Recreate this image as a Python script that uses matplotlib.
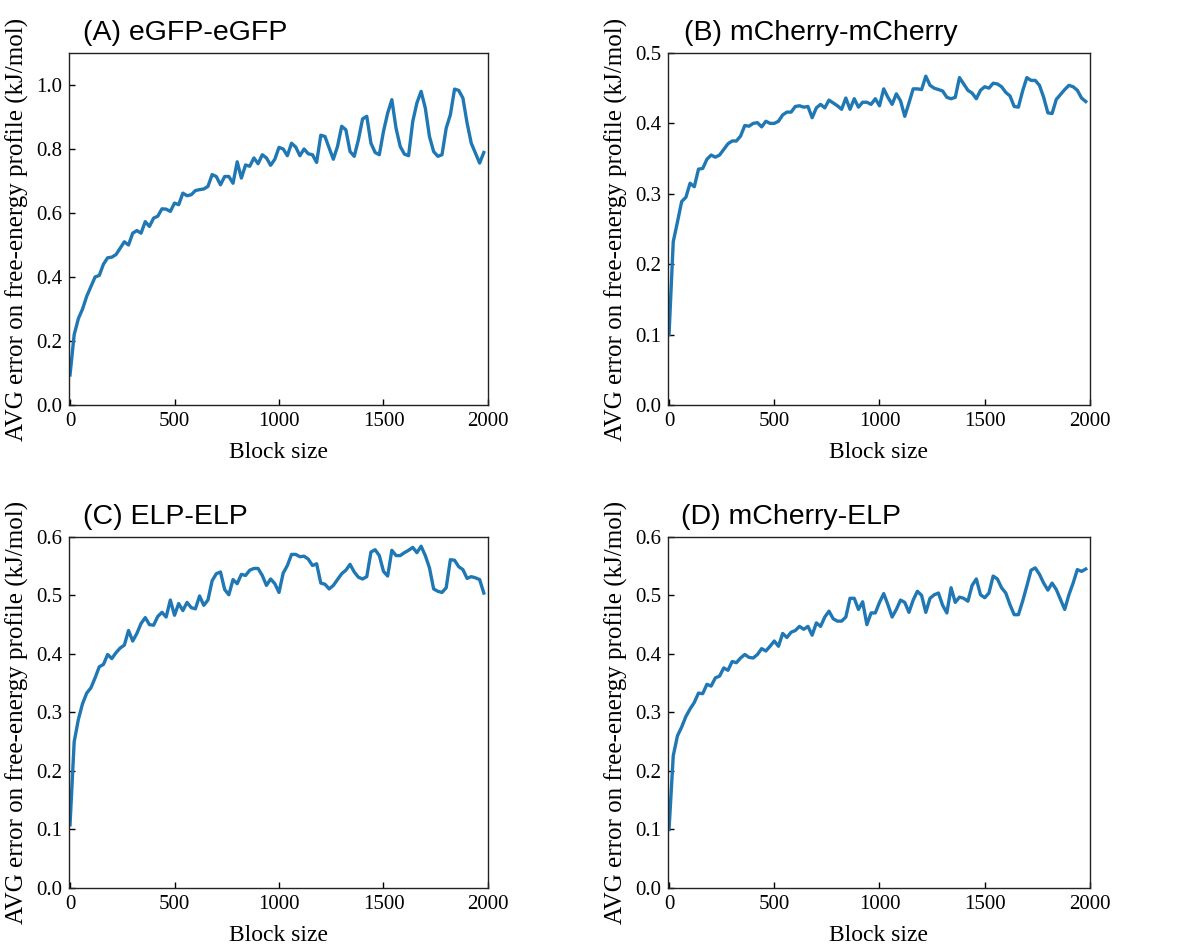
import numpy as np
import matplotlib
matplotlib.use("Agg")
import matplotlib.pyplot as plt

plt.rcParams["font.family"] = ["Liberation Serif", "DejaVu Serif"]

# block sizes sampled every 20 frames
block_size = np.arange(0, 2000, 20)

egfp_egfp = [
    0.094, 0.22, 0.27, 0.30, 0.34, 0.37, 0.40, 0.405, 0.44, 0.46,
    0.462, 0.47, 0.49, 0.51, 0.50, 0.537, 0.545, 0.537, 0.573, 0.558,
    0.584, 0.59, 0.613, 0.612, 0.605, 0.631, 0.626, 0.662, 0.654, 0.657,
    0.67, 0.673, 0.675, 0.683, 0.72, 0.714, 0.688, 0.714, 0.714, 0.693,
    0.76, 0.709, 0.75, 0.746, 0.772, 0.754, 0.782, 0.772, 0.749, 0.768,
    0.805, 0.80, 0.779, 0.818, 0.806, 0.779, 0.80, 0.785, 0.782, 0.758,
    0.843, 0.839, 0.803, 0.768, 0.808, 0.871, 0.86, 0.792, 0.777, 0.829,
    0.894, 0.902, 0.818, 0.789, 0.782, 0.855, 0.912, 0.954, 0.865, 0.808,
    0.784, 0.779, 0.886, 0.944, 0.98, 0.928, 0.839, 0.792, 0.777, 0.782,
    0.865, 0.907, 0.987, 0.983, 0.959, 0.881, 0.818, 0.787, 0.756, 0.789,
]

mcherry_mcherry = [
    0.10, 0.232, 0.26, 0.289, 0.295, 0.315, 0.31, 0.335, 0.336, 0.349,
    0.355, 0.352, 0.355, 0.363, 0.371, 0.375, 0.375, 0.382, 0.397, 0.396,
    0.40, 0.401, 0.395, 0.403, 0.40, 0.40, 0.403, 0.412, 0.416, 0.416,
    0.424, 0.425, 0.423, 0.424, 0.408, 0.422, 0.427, 0.422, 0.433, 0.429,
    0.425, 0.42, 0.436, 0.42, 0.435, 0.423, 0.43, 0.43, 0.427, 0.435,
    0.425, 0.449, 0.437, 0.427, 0.442, 0.432, 0.41, 0.429, 0.449, 0.449,
    0.448, 0.467, 0.454, 0.45, 0.448, 0.446, 0.437, 0.435, 0.437, 0.465,
    0.456, 0.447, 0.443, 0.435, 0.447, 0.452, 0.45, 0.457, 0.456, 0.452,
    0.444, 0.439, 0.424, 0.423, 0.446, 0.465, 0.461, 0.461, 0.454, 0.437,
    0.415, 0.414, 0.434, 0.441, 0.448, 0.454, 0.452, 0.447, 0.436, 0.431,
]

elp_elp = [
    0.108, 0.25, 0.288, 0.315, 0.333, 0.342, 0.359, 0.378, 0.382, 0.399,
    0.392, 0.402, 0.41, 0.415, 0.44, 0.422, 0.435, 0.452, 0.462, 0.45,
    0.449, 0.464, 0.471, 0.463, 0.492, 0.466, 0.486, 0.474, 0.488, 0.479,
    0.477, 0.499, 0.483, 0.492, 0.525, 0.537, 0.54, 0.51, 0.501, 0.527,
    0.52, 0.536, 0.534, 0.543, 0.546, 0.546, 0.534, 0.517, 0.528, 0.52,
    0.505, 0.538, 0.551, 0.57, 0.57, 0.566, 0.567, 0.562, 0.551, 0.554,
    0.521, 0.519, 0.511, 0.517, 0.527, 0.537, 0.543, 0.553, 0.54, 0.531,
    0.528, 0.532, 0.574, 0.578, 0.568, 0.541, 0.533, 0.577, 0.568, 0.568,
    0.573, 0.577, 0.582, 0.573, 0.584, 0.568, 0.547, 0.511, 0.507, 0.505,
    0.513, 0.561, 0.56, 0.549, 0.544, 0.529, 0.532, 0.53, 0.527, 0.504,
]

mcherry_elp = [
    0.10, 0.226, 0.26, 0.275, 0.293, 0.306, 0.317, 0.333, 0.332, 0.348,
    0.345, 0.359, 0.362, 0.376, 0.372, 0.387, 0.385, 0.393, 0.399, 0.394,
    0.393, 0.399, 0.409, 0.405, 0.413, 0.422, 0.413, 0.435, 0.428, 0.437,
    0.44, 0.447, 0.442, 0.447, 0.432, 0.453, 0.447, 0.463, 0.473, 0.46,
    0.456, 0.456, 0.463, 0.495, 0.495, 0.476, 0.489, 0.45, 0.47, 0.47,
    0.488, 0.503, 0.484, 0.463, 0.476, 0.492, 0.488, 0.471, 0.492, 0.507,
    0.50, 0.471, 0.495, 0.501, 0.504, 0.483, 0.47, 0.513, 0.488, 0.497,
    0.495, 0.49, 0.517, 0.528, 0.501, 0.496, 0.504, 0.533, 0.528, 0.513,
    0.504, 0.484, 0.467, 0.467, 0.49, 0.516, 0.543, 0.547, 0.536, 0.521,
    0.509, 0.521, 0.51, 0.493, 0.476, 0.501, 0.521, 0.544, 0.541, 0.545,
]

titles = ["(A) eGFP-eGFP", "(B) mCherry-mCherry", "(C) ELP-ELP", "(D) mCherry-ELP"]
series = [egfp_egfp, mcherry_mcherry, elp_elp, mcherry_elp]
y_limits = [1.1, 0.5, 0.6, 0.6]
y_steps = [0.2, 0.1, 0.1, 0.1]

# axes rectangles in figure fractions (left, bottom, width, height)
rects = [
    (0.0582, 0.5732, 0.3536, 0.3710),
    (0.5637, 0.5732, 0.3561, 0.3710),
    (0.0582, 0.0643, 0.3536, 0.3700),
    (0.5637, 0.0643, 0.3561, 0.3700),
]
title_x = [0.033, 0.038, 0.033, 0.031]

fig = plt.figure(figsize=(11.85, 9.49), dpi=100)

for rect, title, values, ymax, step, tx in zip(rects, titles, series, y_limits, y_steps, title_x):
    ax = fig.add_axes(rect)
    ax.plot(block_size, values, color="#1f77b4", linewidth=2.4)
    ax.set_xlim(-5, 2000)
    ax.set_ylim(0, ymax)
    ax.set_xticks([0, 500, 1000, 1500, 2000])
    ax.set_yticks(np.round(np.arange(0, ymax + 1e-9, step), 2))
    ax.yaxis.set_major_formatter(matplotlib.ticker.FormatStrFormatter("%.1f"))
    ax.tick_params(direction="in", length=4.5, width=1.0, labelsize=15, pad=5)
    for spine in ax.spines.values():
        spine.set_linewidth(1.0)
        spine.set_color("#222222")
    ax.set_xlabel("Block size", fontsize=17, labelpad=8)
    ax.set_ylabel("AVG error on free-energy profile (kJ/mol)", fontsize=18, labelpad=5)
    ax.text(tx, 1.037, title, transform=ax.transAxes, fontsize=20.5,
            family=["Liberation Sans", "DejaVu Sans"], va="baseline", ha="left")

fig.savefig("out.png", dpi=100)
